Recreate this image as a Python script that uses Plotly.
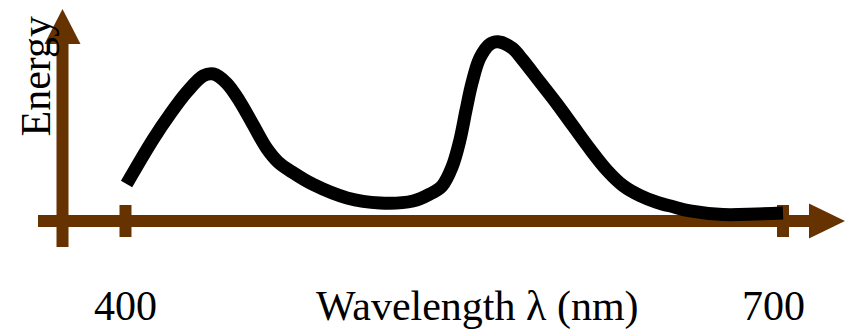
import plotly.graph_objects as go

# Spectral energy curve (wavelength in nm, energy in arbitrary units)
wavelength = [400.5, 412.7, 420.3, 427.9, 435.5, 440.1, 446.2, 452.2, 458.3, 464.4,
              469.6, 476.0, 485.6, 501.1, 516.1, 531.2, 538.9, 544.4, 549.0, 552.6,
              555.4, 558.1, 561.7, 566.3, 570.0, 576.4, 580.9, 589.1, 596.9, 604.2,
              611.9, 619.6, 627.1, 634.8, 642.4, 649.9, 657.6, 672.6, 688.1, 700.0]
energy = [0.206, 0.456, 0.593, 0.715, 0.807, 0.817, 0.765, 0.663, 0.533, 0.404,
          0.328, 0.272, 0.203, 0.128, 0.100, 0.111, 0.150, 0.194, 0.300, 0.450,
          0.617, 0.767, 0.906, 0.983, 0.996, 0.961, 0.900, 0.772, 0.650, 0.528,
          0.400, 0.283, 0.196, 0.141, 0.104, 0.079, 0.056, 0.036, 0.039, 0.044]

tick_values = [400, 700]
tick_labels = ["400", "700"]
x_title = "Wavelength λ (nm)"
y_title = "Energy"

W, H = 848, 329
X_RANGE = [342.74, 729.66]
Y_RANGE = [-0.60, 1.2278]
BROWN = "#663300"
FONT = "Liberation Serif, Times New Roman, serif"


def px(x):
    """Horizontal pixel -> paper fraction."""
    return x / W


def py(y):
    """Vertical pixel (from top) -> paper fraction."""
    return 1 - y / H


def energy_to_py(e):
    return (Y_RANGE[1] - e) / (Y_RANGE[1] - Y_RANGE[0]) * H


axis_y = energy_to_py(0)      # baseline of the energy axis
vaxis_x = 62.5                # vertical axis position

shapes = []
# horizontal axis shaft + arrowhead
shapes.append(dict(type="line", xref="paper", yref="paper", x0=px(38), x1=px(812),
                   y0=py(axis_y), y1=py(axis_y), line=dict(color=BROWN, width=12), layer="below"))
shapes.append(dict(type="path", xref="paper", yref="paper",
                   path=f"M {px(809)} {py(axis_y - 17.5)} L {px(845)} {py(axis_y)} L {px(809)} {py(axis_y + 17.5)} Z",
                   fillcolor=BROWN, line=dict(width=0), layer="below"))
# vertical axis shaft + arrowhead
shapes.append(dict(type="line", xref="paper", yref="paper", x0=px(vaxis_x), x1=px(vaxis_x),
                   y0=py(247), y1=py(41), line=dict(color=BROWN, width=12), layer="below"))
shapes.append(dict(type="path", xref="paper", yref="paper",
                   path=f"M {px(vaxis_x - 18)} {py(44)} L {px(vaxis_x)} {py(9)} L {px(vaxis_x + 18)} {py(44)} Z",
                   fillcolor=BROWN, line=dict(width=0), layer="below"))
# tick marks
for tv in tick_values:
    shapes.append(dict(type="line", xref="x", yref="paper", x0=tv, x1=tv,
                       y0=py(axis_y - 16), y1=py(axis_y + 16),
                       line=dict(color=BROWN, width=12), layer="below"))

annotations = []
label_shift = {"400": 0, "700": -10}
for tv, tl in zip(tick_values, tick_labels):
    annotations.append(dict(x=tv, xref="x", y=py(306), yref="paper", text=tl,
                            showarrow=False, xanchor="center", yanchor="middle",
                            xshift=label_shift[tl],
                            font=dict(family=FONT, size=42, color="black")))
annotations.append(dict(x=px(477.5), xref="paper", y=py(306), yref="paper", text=x_title,
                        showarrow=False, xanchor="center", yanchor="middle",
                        font=dict(family=FONT, size=42, color="black")))
annotations.append(dict(x=px(36), xref="paper", y=py(76.5), yref="paper", text=y_title,
                        showarrow=False, xanchor="center", yanchor="middle", textangle=-90,
                        font=dict(family=FONT, size=42, color="black")))

fig = go.Figure()
fig.add_trace(go.Scatter(x=wavelength, y=energy, mode="lines",
                         line=dict(color="black", width=13, shape="spline", smoothing=1.0),
                         hoverinfo="skip", showlegend=False))

fig.update_layout(
    width=W, height=H,
    margin=dict(l=0, r=0, t=0, b=0),
    paper_bgcolor="white", plot_bgcolor="white",
    xaxis=dict(range=X_RANGE, visible=False, fixedrange=True),
    yaxis=dict(range=Y_RANGE, visible=False, fixedrange=True),
    shapes=shapes,
    annotations=annotations,
    showlegend=False,
)

fig.write_html("out.html")
